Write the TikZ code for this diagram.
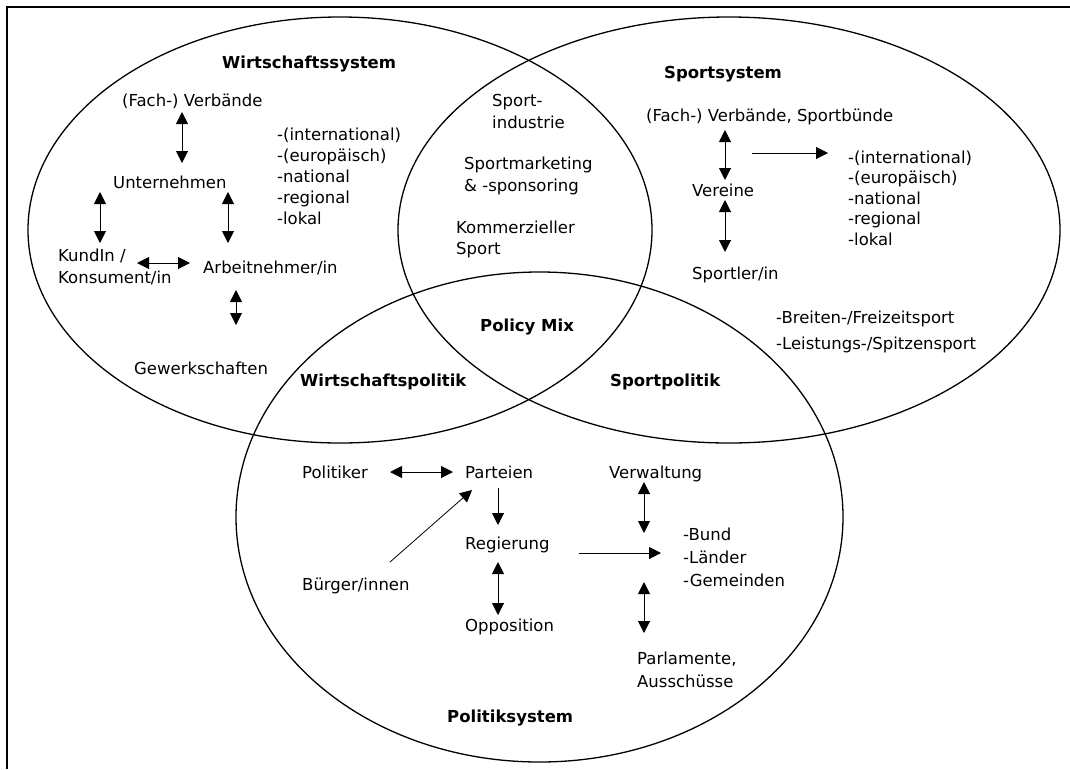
\documentclass[tikz,border=0pt]{standalone}
\usepackage{fontspec}
\setmainfont{DejaVu Sans}
\usetikzlibrary{arrows.meta}
% stacked lines; the node's base is the baseline of the first line
\newcommand\mylines[1]{\vtop{\halign{##\hfil\cr#1\crcr}}}
\tikzset{
  txt/.style={font=\fontsize{16.5}{21}\selectfont, inner sep=0pt, anchor=base west},
  ttl/.style={txt, font=\fontsize{16.5}{21}\selectfont\bfseries},
  ring/.style={draw, line width=1.3pt},
  tip/.tip={Triangle[length=12pt,width=12pt]},
  dbl/.style={line width=1pt, {tip}-{tip}},
  sgl/.style={line width=1pt, -{tip}},
  thin/.style={line width=0.8pt, -{tip}}
}
\begin{document}
\begin{tikzpicture}[x=1pt,y=-1pt]
\useasboundingbox (0,0) rectangle (1070,769);
% frame
\draw[line width=2pt] (7,769) -- (7,7) -- (1070,7);

% the three systems
\path[ring] (340,230) ellipse [x radius=312pt, y radius=213pt];
\path[ring] (729,230) ellipse [x radius=331pt, y radius=213pt];
\path[ring] (539.5,517) ellipse [x radius=303.5pt, y radius=245pt];

% Wirtschaftssystem
\node[ttl] (ws) at (222,68) {Wirtschaftssystem};
\node[txt] (fv1) at (122,106) {(Fach-) Verbände};
\node[txt] (un) at (113,188) {Unternehmen};
\node[txt] (lv1) at (277,140) {\mylines{-(international)\cr -(europäisch)\cr -national\cr -regional\cr -lokal}};
\node[txt, font=\fontsize{16.5}{22}\selectfont] (ku) at (58,261) {\mylines{KundIn /\cr Konsument/in}};
\node[txt] (an) at (203,273) {Arbeitnehmer/in};
\node[txt] (gw) at (134,374) {Gewerkschaften};
\node[ttl] (wp) at (300,386) {Wirtschaftspolitik};

% overlap economy / sport
\node[txt, font=\fontsize{16.5}{22}\selectfont] (si) at (492,106) {\mylines{Sport-\cr industrie}};
\node[txt, font=\fontsize{16.5}{22}\selectfont] (sm) at (464,169) {\mylines{Sportmarketing\cr \& -sponsoring}};
\node[txt, font=\fontsize{16.5}{21}\selectfont] (ks) at (456,233) {\mylines{Kommerzieller\cr Sport}};
\node[ttl] (pm) at (480,331) {Policy Mix};

% Sportsystem
\node[ttl] (ss) at (664,78) {Sportsystem};
\node[txt] (fv2) at (646,121) {(Fach-) Verbände, Sportbünde};
\node[txt] (ve) at (692,196) {Vereine};
\node[txt] (sp) at (692,279) {Sportler/in};
\node[txt, font=\fontsize{16.5}{20.5}\selectfont] (lv2) at (848,163) {\mylines{-(international)\cr -(europäisch)\cr -national\cr -regional\cr -lokal}};
\node[txt] (bf) at (776,323) {-Breiten-/Freizeitsport};
\node[txt] (lsp) at (776,349) {-Leistungs-/Spitzensport};
\node[ttl] (spp) at (610,386) {Sportpolitik};

% Politiksystem
\node[txt] (po) at (302,478) {Politiker};
\node[txt] (pa) at (465,478) {Parteien};
\node[txt] (vw) at (609,478) {Verwaltung};
\node[txt] (re) at (465,549) {Regierung};
\node[txt] (bu) at (302,590) {Bürger/innen};
\node[txt] (op) at (465,631) {Opposition};
\node[txt, font=\fontsize{16.5}{23}\selectfont] (bl) at (683,540) {\mylines{-Bund\cr -Länder\cr -Gemeinden}};
\node[txt, font=\fontsize{16.5}{23}\selectfont] (pl) at (637,664) {\mylines{Parlamente,\cr Ausschüsse}};
\node[ttl] (ps) at (447,722) {Politiksystem};

% connector ends
\coordinate (fv1s) at (182,112);  \coordinate (unn)  at (182,163);
\coordinate (unl)  at (100,192);  \coordinate (kun)  at (100,243);
\coordinate (unr)  at (228,192);  \coordinate (ann)  at (228,243);
\coordinate (kue)  at (137,263);  \coordinate (anw)  at (190,263);
\coordinate (ans)  at (236,290);  \coordinate (gwn)  at (236,325);
\coordinate (fv2s) at (725,130);  \coordinate (ven)  at (725,180);
\coordinate (ves)  at (725,200);  \coordinate (spn)  at (725,252);
\coordinate (vee)  at (752,153);  \coordinate (lv2w) at (828,153);
\coordinate (poe)  at (390,472);  \coordinate (paw)  at (453,472);
\coordinate (pas)  at (498,488);  \coordinate (ren)  at (498,525);
\coordinate (bun)  at (390,562);  \coordinate (pasw) at (472,490);
\coordinate (ree)  at (579,553);  \coordinate (blw)  at (661,553);
\coordinate (res)  at (498,562);  \coordinate (opn)  at (498,615);
\coordinate (vws)  at (644,482);  \coordinate (bln)  at (644,533);
\coordinate (bls)  at (644,582);  \coordinate (pln)  at (644,633);

% connectors
\draw[dbl] (fv1s) -- (unn);
\draw[dbl] (unl) -- (kun);
\draw[dbl] (unr) -- (ann);
\draw[dbl] (kue) -- (anw);
\draw[dbl] (ans) -- (gwn);
\draw[dbl] (fv2s) -- (ven);
\draw[dbl] (ves) -- (spn);
\draw[sgl] (vee) -- (lv2w);
\draw[dbl] (poe) -- (paw);
\draw[sgl] (pas) -- (ren);
\draw[thin] (bun) -- (pasw);
\draw[sgl] (ree) -- (blw);
\draw[dbl] (res) -- (opn);
\draw[dbl] (vws) -- (bln);
\draw[dbl] (bls) -- (pln);
\end{tikzpicture}
\end{document}
